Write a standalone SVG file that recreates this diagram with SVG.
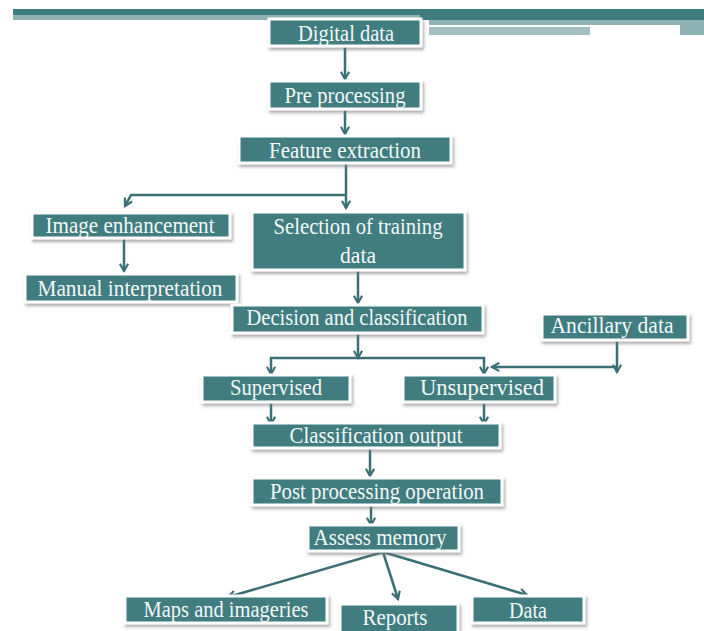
<svg xmlns="http://www.w3.org/2000/svg" width="704" height="631" viewBox="0 0 704 631">
<style>
.box{fill:#3f7c80;stroke:#ffffff;stroke-width:3;filter:url(#sh)}
.t{font-family:"Liberation Serif","DejaVu Serif",serif;font-size:22.5px;fill:#f4f8f8;text-anchor:middle}
.c{fill:none;stroke:#3a7075;stroke-width:2.5;marker-end:url(#ah)}
</style>
<defs>
<filter id="sh" x="-10%" y="-30%" width="120%" height="170%">
<feDropShadow dx="1.5" dy="2.5" stdDeviation="1.5" flood-color="#777" flood-opacity="0.6"/>
</filter>
<marker id="ah" viewBox="0 0 12 12" refX="10" refY="6" markerWidth="11" markerHeight="11" markerUnits="userSpaceOnUse" orient="auto">
<path d="M2,1.5 L10,6 L2,10.5" fill="none" stroke="#3a7075" stroke-width="2.4" stroke-linejoin="miter"/>
</marker>
</defs>
<rect width="704" height="631" fill="#ffffff"/>
<g id="banner">
<rect x="13" y="9" width="691" height="7" fill="#3f7c80"/>
<rect x="13" y="15" width="691" height="5" fill="#8fb2b4"/>
<rect x="420" y="9" width="284" height="11" fill="#3f7c80"/>
<rect x="429" y="20" width="275" height="5" fill="#8fb2b4"/>
<rect x="429" y="25" width="251" height="2" fill="#ffffff"/>
<rect x="429" y="27" width="161" height="8" fill="#a3c1c3"/>
<rect x="680" y="20" width="24" height="15" fill="#8fb2b4"/>
</g>
<g id="connectors">
<path class="c" d="M345,47 V79"/>
<path class="c" d="M345,110 V134"/>
<path class="c" d="M346,164 V208"/>
<path class="c" d="M346,195 H131 L125,206"/>
<path class="c" d="M124,239 V271"/>
<path class="c" d="M358,271 V303"/>
<path class="c" d="M358,334 V358"/>
<path class="c" d="M358,358 H271 V374"/>
<path class="c" d="M358,358 H484 V374"/>
<path class="c" d="M617,341 V372"/>
<path class="c" d="M617,367 H492"/>
<path class="c" d="M271,403 V424"/>
<path class="c" d="M484,403 V424"/>
<path class="c" d="M370,449 V476"/>
<path class="c" d="M371,506 V525"/>
<path class="c" d="M383,552 L228,597"/>
<path class="c" d="M383,552 L398,599"/>
<path class="c" d="M383,552 L527,595"/>
</g>
<g id="digital-data"><rect class="box" x="269" y="19" width="152" height="27"/><text class="t" x="346" y="41" textLength="96" lengthAdjust="spacingAndGlyphs">Digital data</text></g>
<g id="pre-processing"><rect class="box" x="269" y="81" width="152" height="28"/><text class="t" x="345" y="103" textLength="121" lengthAdjust="spacingAndGlyphs">Pre processing</text></g>
<g id="feature-extraction"><rect class="box" x="239" y="136" width="212" height="27"/><text class="t" x="345" y="158" textLength="152" lengthAdjust="spacingAndGlyphs">Feature extraction</text></g>
<g id="image-enhancement"><rect class="box" x="32" y="213" width="198" height="25"/><text class="t" x="130" y="233" textLength="169" lengthAdjust="spacingAndGlyphs">Image enhancement</text></g>
<g id="selection"><rect class="box" x="252" y="212" width="213" height="58"/><text class="t" x="358" y="234" textLength="169" lengthAdjust="spacingAndGlyphs">Selection of training</text><text class="t" x="358" y="263" textLength="36" lengthAdjust="spacingAndGlyphs">data</text></g>
<g id="manual-interpretation"><rect class="box" x="25" y="274" width="212" height="28"/><text class="t" x="130" y="296" textLength="185" lengthAdjust="spacingAndGlyphs">Manual interpretation</text></g>
<g id="decision"><rect class="box" x="232" y="305" width="251" height="28"/><text class="t" x="357" y="325" textLength="221" lengthAdjust="spacingAndGlyphs">Decision and classification</text></g>
<g id="ancillary"><rect class="box" x="542" y="314" width="146" height="26"/><text class="t" x="612" y="333" textLength="123" lengthAdjust="spacingAndGlyphs">Ancillary data</text></g>
<g id="supervised"><rect class="box" x="202" y="375" width="148" height="27"/><text class="t" x="276" y="395" textLength="92" lengthAdjust="spacingAndGlyphs">Supervised</text></g>
<g id="unsupervised"><rect class="box" x="403" y="375" width="152" height="27"/><text class="t" x="482" y="395" textLength="124" lengthAdjust="spacingAndGlyphs">Unsupervised</text></g>
<g id="classification-output"><rect class="box" x="252" y="423" width="248" height="25"/><text class="t" x="376" y="443" textLength="173" lengthAdjust="spacingAndGlyphs">Classification output</text></g>
<g id="post-processing"><rect class="box" x="252" y="478" width="250" height="27"/><text class="t" x="377" y="499" textLength="214" lengthAdjust="spacingAndGlyphs">Post processing operation</text></g>
<g id="assess-memory"><rect class="box" x="308" y="525" width="151" height="26"/><text class="t" x="380" y="545" textLength="133" lengthAdjust="spacingAndGlyphs">Assess memory</text></g>
<g id="maps"><rect class="box" x="125" y="596" width="202" height="27"/><text class="t" x="226" y="617" textLength="165" lengthAdjust="spacingAndGlyphs">Maps and imageries</text></g>
<g id="reports"><rect class="box" x="340" y="604" width="118" height="30"/><text class="t" x="395" y="625" textLength="65" lengthAdjust="spacingAndGlyphs">Reports</text></g>
<g id="data"><rect class="box" x="472" y="596" width="112" height="27"/><text class="t" x="528" y="618" textLength="38" lengthAdjust="spacingAndGlyphs">Data</text></g>
</svg>
